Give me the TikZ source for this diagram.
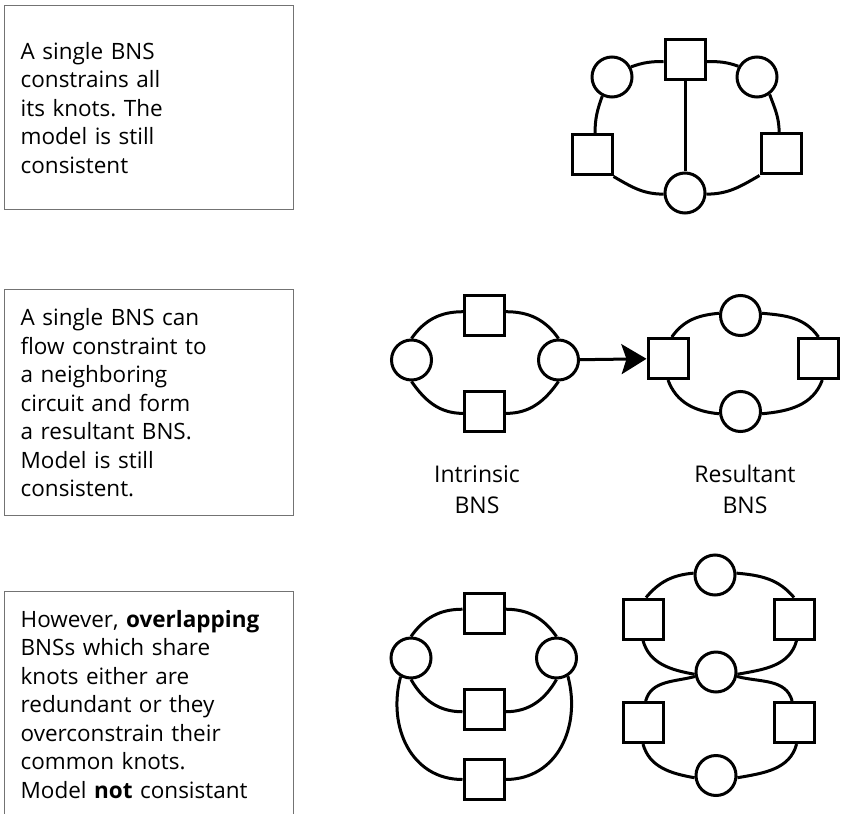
\documentclass[tikz,border=0pt]{standalone}
\usepackage{fontspec}
\setmainfont{Open Sans}
\usetikzlibrary{arrows.meta}
\frenchspacing
\begin{document}
\begin{tikzpicture}[x=1pt,y=1pt,line width=3pt,
  sq/.style={draw,fill=white,minimum size=40pt,inner sep=0pt},
  ci/.style={draw,fill=white,circle,minimum size=40pt,inner sep=0pt},
  txtbox/.style={draw=black!55,line width=1.3pt,anchor=north west,text width=257pt,inner xsep=16pt,
    align=left,minimum width=289pt,font=\fontsize{22.5}{28.5}\selectfont},
  lbl/.style={align=center,font=\fontsize{23}{31}\selectfont}]
\useasboundingbox (0,0) rectangle (845,-813);

\node[txtbox,minimum height=204pt] (box1) at (4,-5) {A single BNS\\constrains all\\its knots. The\\model is still\\consistent};
\node[txtbox,minimum height=226pt] (box2) at (4,-289) {A single BNS can\\flow constraint to\\a neighboring\\circuit and form\\a resultant BNS.\\Model is still\\consistent.};
\node[txtbox,minimum height=225pt] (box3) at (4,-591) {However, \textbf{overlapping}\\BNSs which share\\knots either are\\redundant or they\\overconstrain their\\common knots.\\Model \textbf{not} consistant};

\node[sq] (T1) at (685,-60) {};
\node[ci] (A1) at (612,-77) {};
\node[ci] (B1) at (757,-77) {};
\node[sq] (C1) at (592,-155) {};
\node[sq] (D1) at (781,-154) {};
\node[ci] (E1) at (685,-193) {};

\draw (A1.28) to[out=20,in=180] (T1.184);
\draw (T1.-4) to[out=0,in=160] (B1.150);
\draw (A1.-117) to[out=-110,in=90] (C1.82);
\draw (B1.-54) to[out=-70,in=90] (D1.95);
\draw (C1.south east) to[out=-30,in=180] (E1.183);
\draw (E1.-3) to[out=0,in=-150] (D1.south west);
\draw (T1) -- (E1);

\node[ci] (F2) at (411.5,-360) {};
\node[sq] (G2) at (484.5,-315.5) {};
\node[ci] (H2) at (558.5,-360) {};
\node[sq] (I2) at (484.5,-411.5) {};

\draw (F2.north) to[out=55,in=180] (G2.170);
\draw (G2.10) to[out=0,in=125] (H2.north);
\draw (F2.south) to[out=-55,in=180] (I2.-175);
\draw (I2.-5) to[out=0,in=-125] (H2.south);

\node[sq] (J2) at (668,-358.5) {};
\node[ci] (K2) at (740.5,-315.5) {};
\node[sq] (L2) at (818.5,-358.5) {};
\node[ci] (M2) at (740.5,-411.5) {};

\draw (J2.80) to[out=55,in=185] (K2.174);
\draw (K2.6) to[out=-5,in=125] (L2.north);
\draw (J2.south) to[out=-70,in=175] (M2.186);
\draw (M2.-6) to[out=5,in=-110] (L2.-80);

\draw[-{Stealth[length=25pt,width=30pt,inset=5pt]}] (H2) -- (J2);

\node[lbl] (intr) at (477,-489.5) {Intrinsic\\BNS};
\node[lbl] (resu) at (745,-489.5) {Resultant\\BNS};

\node[sq] (N3) at (484,-613) {};
\node[ci] (O3) at (411,-658) {};
\node[ci] (P3) at (556.5,-658) {};
\node[sq] (Q3) at (484,-709.5) {};
\node[sq] (R3) at (484,-779.5) {};

\draw (O3.north) to[out=55,in=180] (N3.170);
\draw (N3.10) to[out=0,in=125] (P3.north);
\draw (O3.south) to[out=-60,in=180] (Q3.-174);
\draw (Q3.-6) to[out=0,in=-120] (P3.south);
\draw (O3.-119) to[out=-105,in=180,looseness=1.1] (R3.west);
\draw (R3.east) to[out=0,in=-75,looseness=1.1] (P3.-58);

\node[ci] (S4) at (715,-575) {};
\node[sq] (U4) at (643,-619) {};
\node[sq] (V4) at (794,-619) {};
\node[ci] (W4) at (716,-672) {};
\node[sq] (X4) at (643,-722.5) {};
\node[sq] (Y4) at (794,-722.5) {};
\node[ci] (Z4) at (716,-775.5) {};

\draw (U4.82) to[out=50,in=185] (S4.175);
\draw (S4.5) to[out=-5,in=130] (V4.north);
\draw (U4.south) to[out=-75,in=170] (W4.186);
\draw (W4.-6) to[out=10,in=-105] (V4.-83);
\draw (W4.192) to[out=195,in=75] (X4.83);
\draw (W4.-12) to[out=-15,in=105] (Y4.95);
\draw (X4.south) to[out=-75,in=170] (Z4.186);
\draw (Z4.-6) to[out=10,in=-105] (Y4.-83);
\end{tikzpicture}
\end{document}
